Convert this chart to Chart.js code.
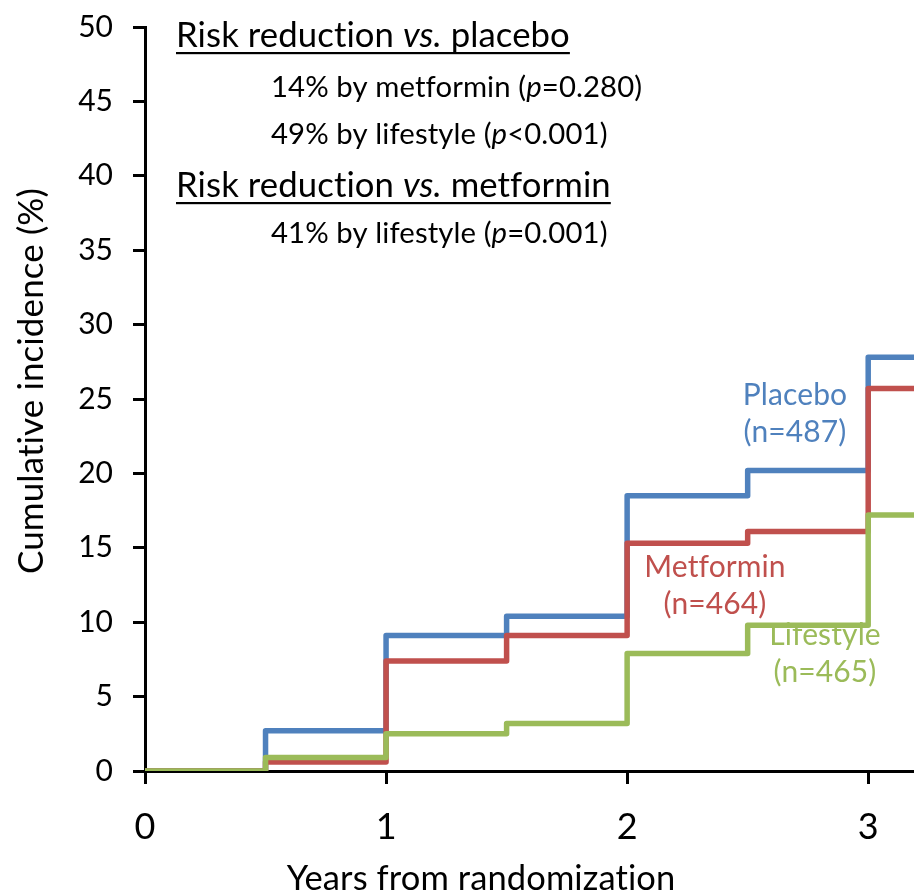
<!DOCTYPE html>
<html>
<head>
<meta charset="utf-8">
<script src="https://cdn.jsdelivr.net/npm/chart.js@4"></script>
<style>
  html, body { margin: 0; padding: 0; background: #fff; }
  #wrap { width: 914px; height: 894px; }
</style>
</head>
<body>
<div id="wrap"><canvas id="chart" width="914" height="894"></canvas></div>
<script>
// Cumulative incidence by arm (step values at each time point)
const years = [0, 0.5, 1, 1.5, 2, 2.5, 3, 3.19];
const placebo = [0, 2.7, 9.1, 10.4, 18.5, 20.2, 27.8, 27.8];
const metformin = [0, 0.6, 7.4, 9.1, 15.3, 16.1, 25.7, 25.7];
const lifestyle = [0, 0.9, 2.5, 3.2, 7.9, 9.8, 17.2, 17.2];

const xTicks = [0, 1, 2, 3];
const yTickStep = 5;

const FONT = 'Lato, Carlito, "Open Sans", sans-serif';
const BLUE = '#4F81BD';
const RED = '#C0504D';
const GREEN = '#9BBB59';

// text blocks: runs of [text, italic]
const notes = [
  { runs: [['Risk reduction ', false], ['vs.', true], [' placebo', false]], x: 176, y: 47, size: 34.7, underline: true },
  { runs: [['14% by metformin (', false], ['p', true], ['=0.280)', false]], x: 271, y: 97, size: 29.3 },
  { runs: [['49% by lifestyle (', false], ['p', true], ['<0.001)', false]], x: 271, y: 144, size: 29.3 },
  { runs: [['Risk reduction ', false], ['vs.', true], [' metformin', false]], x: 176, y: 197, size: 34.7, underline: true },
  { runs: [['41% by lifestyle (', false], ['p', true], ['=0.001)', false]], x: 271, y: 243, size: 29.3 }
];

const armLabels = [
  { lines: ['Placebo', '(n=487)'], color: BLUE, x: 795, y: 405 },
  { lines: ['Metformin', '(n=464)'], color: RED, x: 715, y: 577 },
  { lines: ['Lifestyle', '(n=465)'], color: GREEN, x: 825, y: 645 }
];

const xTitle = 'Years from randomization';
const yTitle = 'Cumulative incidence (%)';

function toPoints(vals) {
  return years.map((x, i) => ({ x: x, y: vals[i] }));
}

function drawRuns(ctx, runs, x, y, size) {
  let cx = x;
  runs.forEach(([txt, it]) => {
    ctx.font = (it ? 'italic ' : '') + size + 'px ' + FONT;
    ctx.fillText(txt, cx, y);
    cx += ctx.measureText(txt).width;
  });
  return cx;
}

const textPlugin = {
  id: 'texts',
  afterDraw(chart) {
    const ctx = chart.ctx;
    ctx.save();
    ctx.letterSpacing = '0.1px'; // keeps "ti" from joining
    ctx.fillStyle = '#000';
    ctx.textBaseline = 'alphabetic';
    ctx.textAlign = 'left';
    notes.forEach(n => {
      const end = drawRuns(ctx, n.runs, n.x, n.y, n.size);
      if (n.underline) {
        ctx.fillRect(n.x, n.y + 5, end - n.x, 2.2);
      }
    });

    ctx.textAlign = 'center';
    armLabels.forEach(l => {
      ctx.fillStyle = l.color;
      ctx.font = '30px ' + FONT;
      l.lines.forEach((t, i) => ctx.fillText(t, l.x, l.y + i * 36.5));
    });

    ctx.fillStyle = '#000';
    ctx.font = '34.5px ' + FONT;
    ctx.fillText(xTitle, 481, 890);

    ctx.font = '35px ' + FONT;
    ctx.translate(43, 381);
    ctx.rotate(-Math.PI / 2);
    ctx.fillText(yTitle, 0, 0);
    ctx.restore();
  }
};

function series(label, vals, color, order) {
  return {
    label: label,
    data: toPoints(vals),
    borderColor: color,
    backgroundColor: color,
    borderWidth: 5.5,
    stepped: 'before',
    pointRadius: 0,
    fill: false,
    order: order,
    borderJoinStyle: 'round',
    borderCapStyle: 'butt'
  };
}

new Chart(document.getElementById('chart'), {
  type: 'line',
  data: {
    datasets: [
      series('Placebo', placebo, BLUE, 3),
      series('Metformin', metformin, RED, 2),
      series('Lifestyle', lifestyle, GREEN, 1)
    ]
  },
  options: {
    responsive: false,
    animation: false,
    layout: { padding: { top: 27, right: 0, left: 0, bottom: 0 } },
    plugins: { legend: { display: false }, tooltip: { enabled: false } },
    scales: {
      x: {
        type: 'linear',
        min: 0,
        max: years[years.length - 1],
        afterBuildTicks: s => { s.ticks = xTicks.map(v => ({ value: v })); },
        afterFit: s => { s.height = 894 - 771; s.paddingLeft = 0; s.paddingRight = 0; },
        grid: { drawOnChartArea: false, drawTicks: true, tickLength: 13, tickWidth: 3, tickColor: '#000' },
        border: { display: true, width: 3, color: '#000' },
        ticks: { color: '#000', font: { family: FONT, size: 36 }, padding: 22, maxRotation: 0, autoSkip: false }
      },
      y: {
        min: 0,
        max: 50,
        afterFit: s => { s.width = 145; s.paddingTop = 0; s.paddingBottom = 0; },
        grid: { drawOnChartArea: false, drawTicks: true, tickLength: 12, tickWidth: 3, tickColor: '#000' },
        border: { display: true, width: 3, color: '#000' },
        ticks: { stepSize: yTickStep, color: '#000', font: { family: FONT, size: 30 }, padding: 20 }
      }
    }
  },
  plugins: [textPlugin]
});
</script>
</body>
</html>
